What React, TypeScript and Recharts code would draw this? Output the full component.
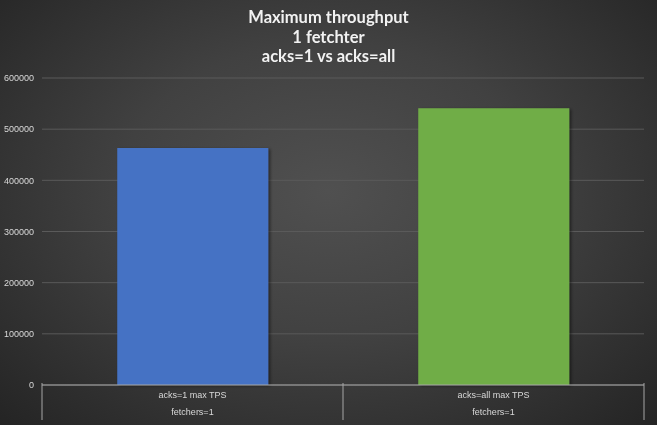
import React from 'react';
import { BarChart, Bar, XAxis, YAxis, CartesianGrid, Cell } from 'recharts';

const W = 657;
const H = 425;

// series / categories
const categories = ['acks=1 max TPS', 'acks=all max TPS'];
const groups = ['fetchers=1', 'fetchers=1'];
const maxTps = [463000, 541000];
const barColors = ['#4472c4', '#70ad47'];
const yTicks = [0, 100000, 200000, 300000, 400000, 500000, 600000];
const titleLines = ['Maximum throughput', '1 fetchter', 'acks=1 vs acks=all'];

const data = categories.map((name, i) => ({ name, group: groups[i], tps: maxTps[i] }));

const LABEL_FONT = '"Liberation Sans Narrow", "Liberation Sans", sans-serif';
const SEP = '#a6a6a6';

// two-level category label with box separators like the spreadsheet axis
function CategoryTick(props: any) {
  const { x, y, payload, index } = props;
  const half = payload?.offset ?? 150.5;
  const row = data[index] || data[0];
  const left = x - half;
  const right = x + half;
  return (
    <g>
      <line x1={left} y1={y - 8} x2={left} y2={y + 29} stroke={SEP} strokeWidth={1} />
      {index === data.length - 1 && (
        <line x1={right} y1={y - 8} x2={right} y2={y + 29} stroke={SEP} strokeWidth={1} />
      )}
      <text x={x} y={y + 7} textAnchor="middle" fill="#d9d9d9" fontSize={9} fontFamily={LABEL_FONT}>
        {row.name}
      </text>
      <text x={x} y={y + 24} textAnchor="middle" fill="#d9d9d9" fontSize={9} fontFamily={LABEL_FONT}>
        {row.group}
      </text>
    </g>
  );
}

export default function App() {
  return (
    <div
      style={{
        position: 'fixed',
        left: 0,
        top: 0,
        width: W,
        height: H,
        background: 'radial-gradient(ellipse at 50% 45%, #505050 0%, #414141 45%, #242424 100%)',
        overflow: 'hidden',
      }}
    >
      <div
        style={{
          position: 'absolute',
          top: 8,
          left: 0,
          width: W,
          textAlign: 'center',
          color: '#f2f2f2',
          fontFamily: 'Lato, "Open Sans", sans-serif',
          fontWeight: 700,
          fontSize: 16.5,
          lineHeight: '19.5px',
        }}
      >
        {titleLines.map((t) => (
          <div key={t}>{t}</div>
        ))}
      </div>
      <BarChart
        width={W}
        height={H}
        data={data}
        margin={{ top: 78, right: 13, bottom: 0, left: 0 }}
        barCategoryGap="25%"
        style={{ position: 'absolute', left: 0, top: 0 }}
      >
        <defs>
          <filter id="barShadow" x="-10%" y="-10%" width="130%" height="130%">
            <feDropShadow dx="2" dy="1" stdDeviation="1.5" floodColor="#000" floodOpacity="0.45" />
          </filter>
        </defs>
        <CartesianGrid vertical={false} stroke="#5a5a5a" strokeWidth={1} />
        <XAxis
          dataKey="name"
          height={40}
          axisLine={{ stroke: SEP }}
          tickLine={false}
          tick={<CategoryTick />}
          interval={0}
          tickMargin={0}
        />
        <YAxis
          width={42}
          domain={[0, 600000]}
          ticks={yTicks}
          axisLine={false}
          tickLine={false}
          tick={{ fill: '#d9d9d9', fontSize: 9, fontFamily: LABEL_FONT }}
        />
        <Bar dataKey="tps" isAnimationActive={false} filter="url(#barShadow)">
          {data.map((d, i) => (
            <Cell key={d.name} fill={barColors[i]} />
          ))}
        </Bar>
      </BarChart>
    </div>
  );
}
